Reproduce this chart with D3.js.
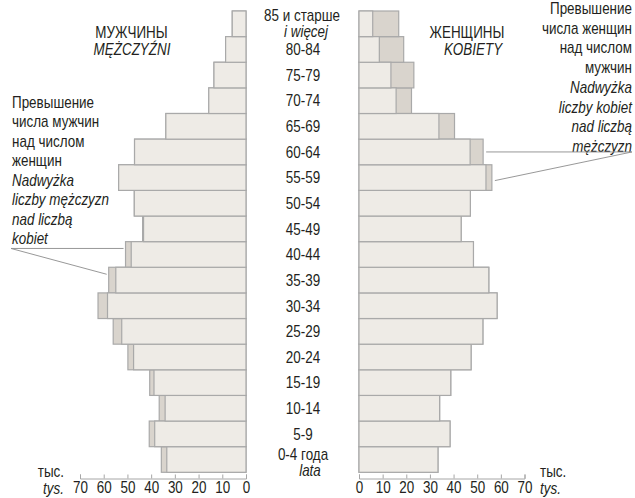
<!doctype html>
<html lang="pl">
  <head>
    <meta charset="utf-8">
    <title>Piramida wieku</title>
    <script src="https://d3js.org/d3.v7.min.js"></script>
    <style>
      body { margin: 0; background: #fff; }
      text { font-family: "Liberation Sans", Arial, sans-serif; fill: #231f20; }
      .axis path, .axis line { stroke: #a6a6a6; }
    </style>
  </head>
  <body>
    <div id="chart"></div>
    <script>
      // age groups, youngest first (thousands of people)
      const ages = ["0-4", "5-9", "10-14", "15-19", "20-24", "25-29", "30-34", "35-39", "40-44",
                    "45-49", "50-54", "55-59", "60-64", "65-69", "70-74", "75-79", "80-84", "85+"];
      const males = [35.7, 40.8, 36.6, 40.6, 49.8, 56.0, 62.4, 57.9, 50.8,
                     43.6, 47.1, 53.7, 47.0, 33.8, 15.7, 13.5, 8.6, 5.8];
      const females = [33.4, 38.5, 34.1, 38.8, 47.4, 52.4, 58.4, 54.9, 48.4,
                       43.2, 47.1, 56.2, 52.5, 40.4, 22.2, 23.2, 18.9, 16.8];
      const ticks = [0, 10, 20, 30, 40, 50, 60, 70];

      const width = 635, height = 498;
      const light = "#eeebe6", dark = "#d9d4cd", edge = "#a9a9a9";
      const squeeze = 0.84; // the original type is a condensed face

      const svg = d3.select("#chart").append("svg")
        .attr("width", width)
        .attr("height", height);

      // condensed text helper
      function label(x, y, txt, anchor, italic) {
        return svg.append("text")
          .attr("transform", `translate(${x},${y}) scale(${squeeze},1)`)
          .attr("text-anchor", anchor || "start")
          .attr("font-size", "16px")
          .attr("font-style", italic ? "italic" : null)
          .text(txt);
      }

      const rows = ages.map((a, i) => ({age: a, m: males[i], f: females[i]}));

      // oldest at the top
      const y = d3.scaleBand()
        .domain(ages.slice().reverse())
        .range([11, 472.3])
        .padding(0);

      const xL = d3.scaleLinear().domain([0, 70]).range([246, 80]);
      const xR = d3.scaleLinear().domain([0, 70]).range([359, 524.5]);

      // men: whole bar (dark part = excess), then common part on top
      svg.selectAll(".mAll").data(rows).enter().append("rect")
        .attr("x", d => xL(d.m))
        .attr("y", d => y(d.age))
        .attr("width", d => xL(0) - xL(d.m))
        .attr("height", y.bandwidth())
        .attr("fill", dark).attr("stroke", edge).attr("stroke-width", 1.2);
      svg.selectAll(".mMin").data(rows).enter().append("rect")
        .attr("x", d => xL(Math.min(d.m, d.f)))
        .attr("y", d => y(d.age))
        .attr("width", d => xL(0) - xL(Math.min(d.m, d.f)))
        .attr("height", y.bandwidth())
        .attr("fill", light).attr("stroke", edge).attr("stroke-width", 1.2);

      // women
      svg.selectAll(".fAll").data(rows).enter().append("rect")
        .attr("x", xR(0))
        .attr("y", d => y(d.age))
        .attr("width", d => xR(d.f) - xR(0))
        .attr("height", y.bandwidth())
        .attr("fill", dark).attr("stroke", edge).attr("stroke-width", 1.2);
      svg.selectAll(".fMin").data(rows).enter().append("rect")
        .attr("x", xR(0))
        .attr("y", d => y(d.age))
        .attr("width", d => xR(Math.min(d.m, d.f)) - xR(0))
        .attr("height", y.bandwidth())
        .attr("fill", light).attr("stroke", edge).attr("stroke-width", 1.2);

      // axes
      const axisY = 478.5;
      [xL, xR].forEach(sc => {
        const g = svg.append("g")
          .attr("class", "axis")
          .attr("transform", `translate(0,${axisY})`)
          .call(d3.axisBottom(sc).tickValues(ticks).tickSize(-4).tickPadding(3));
        g.attr("font-family", null).attr("font-size", null);
        g.selectAll("text")
          .attr("font-size", "16px")
          .attr("fill", "#231f20")
          .attr("transform", `scale(${squeeze},1)`);
      });

      // age labels
      rows.forEach(d => {
        if (d.age === "85+" || d.age === "0-4") return;
        label(303, y(d.age) + y.bandwidth() / 2 + 5.8, d.age, "middle");
      });
      label(302, 20.5, "85 и старше", "middle");
      label(306, 37, "i więcej", "middle", true);
      label(303, 460, "0-4 года", "middle");
      label(310, 476, "lata", "middle", true);

      // headers
      label(131.5, 38, "МУЖЧИНЫ", "middle");
      label(132, 55, "MĘŻCZYŹNI", "middle", true);
      label(467, 38, "ЖЕНЩИНЫ", "middle");
      label(473, 55, "KOBIETY", "middle", true);

      // units
      label(64, 477, "тыс.", "end");
      label(64, 494, "tys.", "end", true);
      label(540, 477, "тыс.");
      label(540, 494, "tys.", "start", true);

      // annotations
      const noteL = [["Превышение", 0], ["числа мужчин", 0], ["над числом", 0], ["женщин", 0],
                     ["Nadwyżka", 1], ["liczby mężczyzn", 1], ["nad liczbą", 1], ["kobiet", 1]];
      noteL.forEach((t, i) => label(12, 107.5 + i * 19.5, t[0], "start", t[1]));
      const noteR = [["Превышение", 0], ["числа женщин", 0], ["над числом", 0], ["мужчин", 0],
                     ["Nadwyżka", 1], ["liczby kobiet", 1], ["nad liczbą", 1], ["mężczyzn", 1]];
      noteR.forEach((t, i) => label(632, 14 + i * 19.7, t[0], "end", t[1]));

      const pointerL = y("40-44") + y.bandwidth() / 2 - 6;
      svg.append("line").attr("x1", 11).attr("y1", pointerL).attr("x2", xL(males[8]) - 2).attr("y2", pointerL)
        .attr("stroke", "#8c8c8c").attr("stroke-width", 0.9);
      svg.append("line").attr("x1", 11).attr("y1", pointerL).attr("x2", xL(males[7]) - 2)
        .attr("y2", y("35-39") + 7)
        .attr("stroke", "#8c8c8c").attr("stroke-width", 0.9);

      const pointerR = y("60-64") + y.bandwidth() / 2;
      svg.append("line").attr("x1", xR(females[12]) + 3).attr("y1", pointerR).attr("x2", 632).attr("y2", pointerR)
        .attr("stroke", "#8c8c8c").attr("stroke-width", 0.9);
      svg.append("line").attr("x1", xR(females[11]) + 3).attr("y1", y("55-59") + y.bandwidth() / 2 + 3)
        .attr("x2", 632).attr("y2", pointerR)
        .attr("stroke", "#8c8c8c").attr("stroke-width", 0.9);
    </script>
  </body>
</html>
